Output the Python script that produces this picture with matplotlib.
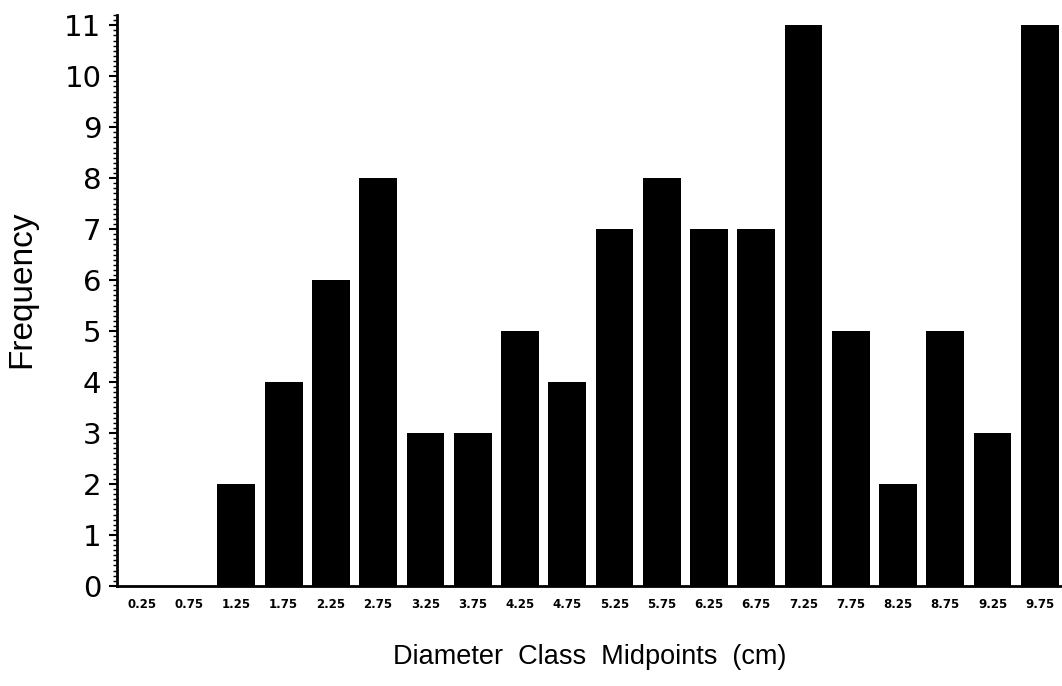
import numpy as np
import matplotlib
matplotlib.use("Agg")
import matplotlib.pyplot as plt
from matplotlib.ticker import MultipleLocator

midpoints = ["0.25", "0.75", "1.25", "1.75", "2.25", "2.75", "3.25", "3.75", "4.25", "4.75",
             "5.25", "5.75", "6.25", "6.75", "7.25", "7.75", "8.25", "8.75", "9.25", "9.75"]
frequency = [0, 0, 2, 4, 6, 8, 3, 3, 5, 4, 7, 8, 7, 7, 11, 5, 2, 5, 3, 11]

fig = plt.figure(figsize=(10.62, 6.86), dpi=100)
ax = fig.add_axes([0.110, 0.146, 0.890, 0.832])

x = np.arange(len(midpoints))
ax.bar(x, frequency, width=0.8, color="black")

ax.set_xlim(-0.53, len(midpoints) - 0.53)
ax.set_ylim(0, 11.2)
ax.set_xticks(x)
ax.set_xticklabels(midpoints, fontsize=8.5, fontweight="bold")
ax.tick_params(axis="x", length=0, pad=9)
ax.yaxis.set_major_locator(MultipleLocator(1))
ax.yaxis.set_minor_locator(MultipleLocator(0.1))
ax.tick_params(axis="y", which="major", length=6, width=1.5, labelsize=21, pad=5)
ax.tick_params(axis="y", which="minor", length=3, width=1)

for side in ["top", "right"]:
    ax.spines[side].set_visible(False)
ax.spines["left"].set_linewidth(2)
ax.spines["bottom"].set_linewidth(2)

ax.set_xlabel("Diameter  Class  Midpoints  (cm)", fontsize=19.5, family="Liberation Sans")
ax.set_ylabel("Frequency", fontsize=24, family="Liberation Sans")
ax.xaxis.set_label_coords(0.5, -0.102)
ax.yaxis.set_label_coords(-0.084, 0.52)

fig.savefig("out.png", dpi=100)
